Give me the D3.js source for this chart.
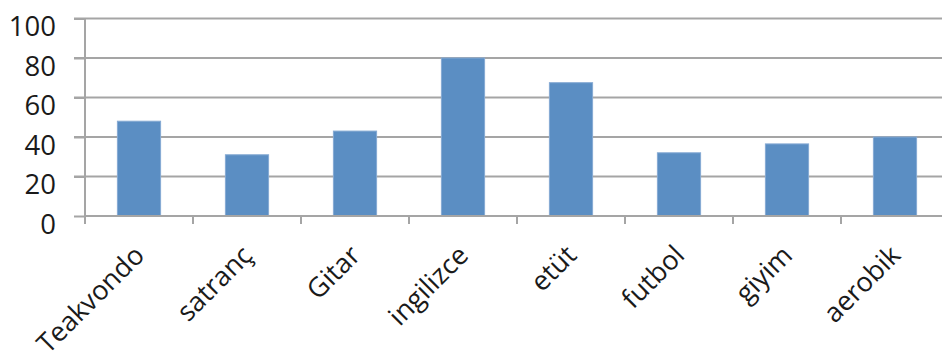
<!DOCTYPE html>
<html>
<head>
<meta charset="utf-8">
<script src="https://cdn.jsdelivr.net/npm/d3@7"></script>
<style>
  html, body { margin: 0; padding: 0; background: #fff; overflow: hidden; }
  svg { display: block; }
  text { font-family: "Open Sans", "Liberation Sans", sans-serif; fill: #1a1a1a; }
</style>
</head>
<body>
<svg id="chart" width="942" height="361"></svg>
<script>
const categories = ["Teakvondo", "satranç", "Gitar", "ingilizce", "etüt", "futbol", "giyim", "aerobik"];
const values = [48, 31, 43, 80, 67.5, 32, 36.5, 40];
const yTicks = [0, 20, 40, 60, 80, 100];

const svg = d3.select("#chart");
const W = 942, H = 361;
const plot = { left: 85, right: 949, top: 18.5, bottom: 216 };

const x = d3.scaleBand().domain(categories).range([plot.left, plot.right]).padding(0);
const y = d3.scaleLinear().domain([0, 100]).range([plot.bottom, plot.top]);

const gridColor = "#a5a5a5";

// gridlines
svg.append("g").selectAll("line")
  .data(yTicks.filter(d => d > 0))
  .join("line")
  .attr("x1", plot.left - 11).attr("x2", W)
  .attr("y1", d => y(d)).attr("y2", d => y(d))
  .attr("stroke", gridColor).attr("stroke-width", 2);

// y axis
const yAxis = svg.append("g")
  .attr("transform", `translate(${plot.left},0)`)
  .call(d3.axisLeft(y).tickValues(yTicks).tickSize(11).tickPadding(0).tickFormat(d3.format("d")));
yAxis.select(".domain").attr("stroke", gridColor).attr("stroke-width", 2)
  .attr("d", `M0,${y(100)}V${plot.bottom + 8}`);
yAxis.selectAll(".tick line").attr("stroke", gridColor).attr("stroke-width", 2);
yAxis.selectAll(".tick text")
  .attr("x", -29).attr("dy", "0.62em")
  .style("font-size", "27.5px")
  .style("font-family", "'Open Sans', 'Liberation Sans', sans-serif")
  .attr("fill", "#1a1a1a");

// bars
const barW = x.bandwidth() / 2.5;
svg.append("g").selectAll("rect")
  .data(categories.map((c, i) => ({ c, v: values[i] })))
  .join("rect")
  .attr("x", d => x(d.c) + (x.bandwidth() - barW) / 2)
  .attr("width", barW)
  .attr("y", d => y(d.v))
  .attr("height", d => y(0) - y(d.v))
  .attr("fill", "#5b8ec3")
  .attr("stroke", "#86aad3")
  .attr("stroke-width", 1);

// x axis
const xAxis = svg.append("g")
  .attr("transform", `translate(0,${plot.bottom})`)
  .call(d3.axisBottom(x).tickSize(0).tickFormat(""));
xAxis.select(".domain").attr("stroke", gridColor).attr("stroke-width", 2)
  .attr("d", `M${plot.left},0H${W}`);
// category boundary ticks
svg.append("g").selectAll("line")
  .data(categories)
  .join("line")
  .attr("x1", d => x(d)).attr("x2", d => x(d))
  .attr("y1", plot.bottom).attr("y2", plot.bottom + 8)
  .attr("stroke", gridColor).attr("stroke-width", 2);

// rotated labels
svg.append("g").selectAll("text")
  .data(categories)
  .join("text")
  .attr("transform", d => `translate(${x(d) + x.bandwidth() / 2 + 7},${plot.bottom + 41}) rotate(-45)`)
  .attr("text-anchor", "end")
  .style("font-size", "27px")
  .text(d => d);
</script>
</body>
</html>
